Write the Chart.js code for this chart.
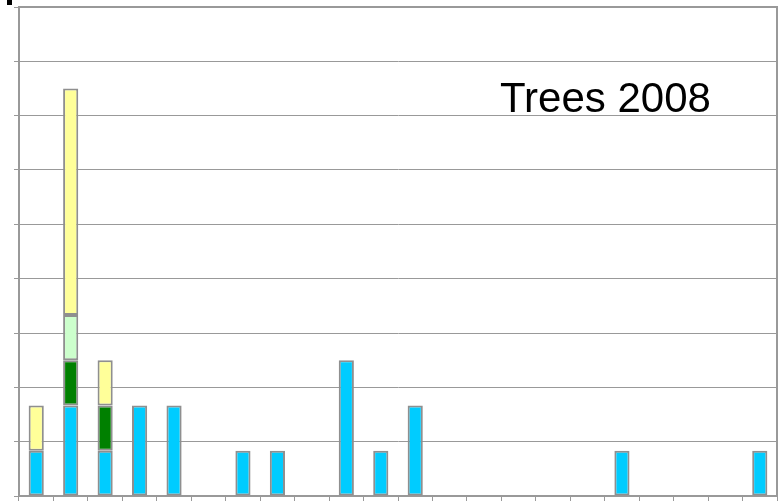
<!DOCTYPE html>
<html>
<head>
<meta charset="utf-8">
<script src="https://cdn.jsdelivr.net/npm/chart.js@4/dist/chart.umd.min.js"></script>
<style>
  html, body { margin: 0; padding: 0; background: #fff; }
  #wrap { position: relative; width: 783px; height: 503px; }
  #mark { position: absolute; left: 7px; top: 0; width: 5px; height: 5px; background: #000; }
</style>
</head>
<body>
<div id="wrap">
  <canvas id="chart" width="783" height="503"></canvas>
  <div id="mark"></div>
</div>
<script>
  // categories (no labels shown on the axis)
  const categories = ["1", "2", "3", "4", "5", "6", "7", "8", "9", "10", "11",
    "12", "13", "14", "15", "16", "17", "18", "19", "20", "21", "22"];

  // counts per stack segment, bottom to top
  const cyanValues   = [1, 2, 1, 2, 2, null, 1, 1, null, 3, 1, 2, null, null, null, null, null, 1, null, null, null, 1];
  const greenValues  = [null, 1, 1, null, null, null, null, null, null, null, null, null, null, null, null, null, null, null, null, null, null, null];
  const paleValues   = [null, 1, null, null, null, null, null, null, null, null, null, null, null, null, null, null, null, null, null, null, null, null];
  const yellowValues = [1, 5, 1, null, null, null, null, null, null, null, null, null, null, null, null, null, null, null, null, null, null, null];

  const yMax = 10.8;
  const chartTitle = "Trees 2008";

  const grey = "#999999";

  function makeSet(label, data, color) {
    return {
      label: label,
      data: data,
      backgroundColor: color,
      borderColor: "#8f8f8f",
      borderWidth: 2,
      borderSkipped: false,
      barPercentage: 0.44,
      categoryPercentage: 1.0
    };
  }

  // frame round the plot + title text inside it
  const framePlugin = {
    id: "frame",
    afterDraw(chart) {
      const { ctx, chartArea } = chart;
      ctx.save();
      ctx.strokeStyle = grey;
      ctx.lineWidth = 2;
      ctx.beginPath();
      ctx.moveTo(chartArea.left, chartArea.top);
      ctx.lineTo(chartArea.right, chartArea.top);
      ctx.lineTo(chartArea.right, chartArea.bottom);
      ctx.stroke();
      ctx.fillStyle = "#000";
      ctx.font = "42px 'Liberation Sans', Arial, sans-serif";
      ctx.textBaseline = "alphabetic";
      ctx.fillText(chartTitle, 500, 112);
      ctx.restore();
    }
  };

  new Chart(document.getElementById("chart"), {
    type: "bar",
    data: {
      labels: categories,
      datasets: [
        makeSet("a", cyanValues, "#00CCFF"),
        makeSet("b", greenValues, "#008000"),
        makeSet("c", paleValues, "#CCFFCC"),
        makeSet("d", yellowValues, "#FFFF99")
      ]
    },
    options: {
      responsive: false,
      animation: false,
      layout: { padding: { top: 7, right: 6, bottom: 2, left: 14 } },
      plugins: {
        legend: { display: false },
        tooltip: { enabled: false }
      },
      scales: {
        x: {
          stacked: true,
          ticks: { display: false },
          grid: { drawOnChartArea: false, drawTicks: true, tickLength: 5, color: grey, lineWidth: 1 },
          border: { color: grey, width: 2 }
        },
        y: {
          stacked: true,
          min: 0,
          max: yMax,
          ticks: { display: false, count: 10 },
          grid: { color: grey, lineWidth: 1, drawTicks: true, tickLength: 5 },
          border: { color: grey, width: 2 }
        }
      }
    },
    plugins: [framePlugin]
  });
</script>
</body>
</html>
